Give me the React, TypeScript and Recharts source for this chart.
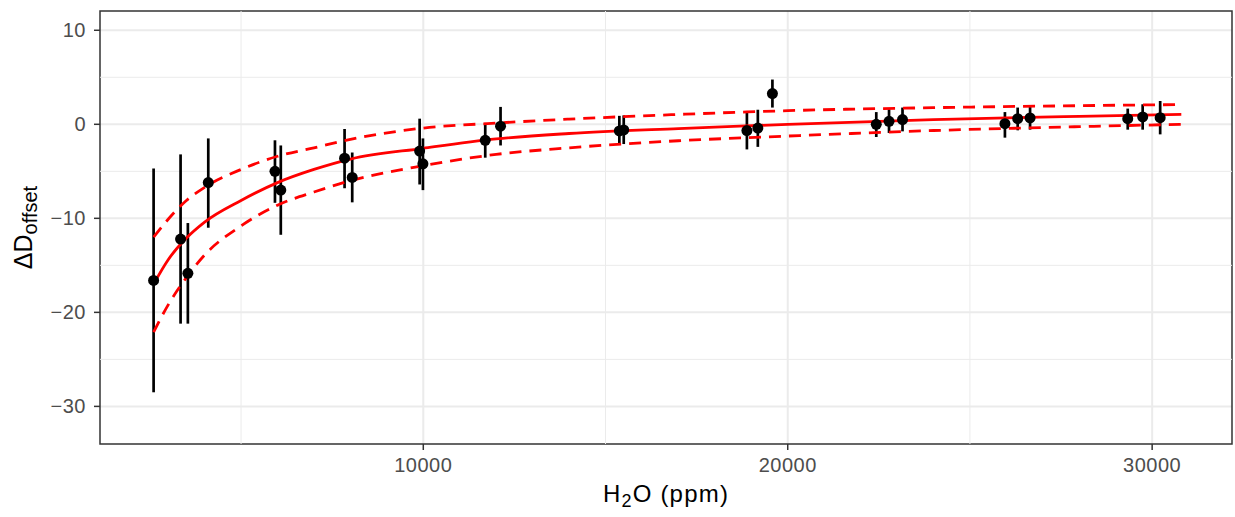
import React from 'react';
import {
  ComposedChart,
  Scatter,
  Line,
  XAxis,
  YAxis,
  CartesianGrid,
  ErrorBar,
  ReferenceLine,
  ReferenceArea,
  Label,
} from 'recharts';

const obsX = [2600, 3340, 3540, 4100, 5930, 6090, 7840, 8050, 9900, 9990, 11700, 12120, 15380, 15500, 18880, 19180, 19580, 22430, 22780, 23150, 25960, 26310, 26650, 29330, 29740, 30220];
const obsY = [-16.6, -12.2, -15.85, -6.2, -5.0, -7.0, -3.6, -5.65, -2.85, -4.2, -1.7, -0.2, -0.7, -0.6, -0.67, -0.4, 3.27, 0.0, 0.32, 0.5, 0.07, 0.6, 0.68, 0.6, 0.78, 0.71];
const obsLow = [-28.5, -21.2, -21.2, -11.0, -8.35, -11.75, -6.8, -8.3, -6.4, -7.0, -3.55, -2.25, -2.2, -2.1, -2.67, -2.4, 1.78, -1.35, -0.92, -0.75, -1.42, -0.64, -0.57, -0.57, -0.57, -1.07];
const obsHigh = [-4.7, -3.2, -10.5, -1.5, -1.7, -2.25, -0.5, -3.0, 0.6, -1.5, 0.15, 1.85, 0.9, 0.95, 1.25, 1.55, 4.76, 1.3, 1.6, 1.78, 1.3, 1.78, 1.92, 1.67, 2.13, 2.48];

// fitted curve and its band
const fitX = [2600, 3000, 3500, 4000, 5000, 6000, 7000, 8000, 10000, 12000, 14000, 17000, 20000, 24000, 28000, 30800];
const fitMid = [-17.0, -14.4, -12.1, -10.4, -8.1, -6.2, -4.8, -3.7, -2.55, -1.55, -0.98, -0.45, 0.0, 0.5, 0.85, 1.06];
const fitUpper = [-12.0, -10.1, -8.1, -6.7, -4.8, -3.4, -2.5, -1.6, -0.4, 0.13, 0.55, 1.05, 1.45, 1.77, 1.98, 2.1];
const fitLower = [-22.1, -19.2, -16.3, -13.9, -10.8, -8.6, -7.2, -6.0, -4.4, -3.2, -2.5, -1.75, -1.25, -0.66, -0.25, 0.0];

const xTicks = [10000, 20000, 30000];
const xMinor = [5000, 15000, 25000];
const yTicks = [-30, -20, -10, 0, 10];
const yMinor = [-25, -15, -5, 5];

const X_DOMAIN: [number, number] = [1129, 32191];
const Y_DOMAIN: [number, number] = [-34, 12.05];

const obsData = obsX.map((x, i) => ({
  x,
  y: obsY[i],
  err: [obsY[i] - obsLow[i], obsHigh[i] - obsY[i]],
}));
const midData = fitX.map((x, i) => ({ x, y: fitMid[i] }));
const upperData = fitX.map((x, i) => ({ x, y: fitUpper[i] }));
const lowerData = fitX.map((x, i) => ({ x, y: fitLower[i] }));

const FONT = '"Liberation Sans", Arial, Helvetica, sans-serif';
const tickStyle = { fill: '#4D4D4D', fontSize: 20, fontFamily: FONT, letterSpacing: 0.5 };

const Dot = (props: any) => <circle cx={props.cx} cy={props.cy} r={5.5} fill="#000000" />;

const XTitle = (props: any) => {
  const vb = props.viewBox;
  const cx = vb.x + vb.width / 2;
  return (
    <text x={cx} y={502} textAnchor="middle" fontFamily={FONT} fontSize={24} letterSpacing={1.2} fill="#000000">
      <tspan>H</tspan>
      <tspan dy={5} fontSize={18}>2</tspan>
      <tspan dy={-5}>O (ppm)</tspan>
    </text>
  );
};

const YTitle = (props: any) => {
  const vb = props.viewBox;
  const cy = vb.y + vb.height / 2;
  const bx = 32;
  return (
    <text
      x={bx}
      y={cy}
      transform={`rotate(-90, ${bx}, ${cy})`}
      textAnchor="middle"
      fontFamily={FONT}
      fontSize={25}
      fill="#000000"
    >
      <tspan>ΔD</tspan>
      <tspan dy={5} fontSize={20}>offset</tspan>
    </text>
  );
};

export default function App() {
  return (
    <div style={{ position: 'absolute', left: 0, top: 0, background: '#ffffff' }}>
      <ComposedChart width={1235} height={517} margin={{ top: 11, right: 3, left: 0, bottom: 0 }}>
        <CartesianGrid
          stroke="#EBEBEB"
          strokeWidth={2}
          horizontalValues={yTicks}
          verticalValues={xTicks}
        />
        {xMinor.map((v) => (
          <ReferenceLine key={'vx' + v} x={v} stroke="#EBEBEB" strokeWidth={1} />
        ))}
        {yMinor.map((v) => (
          <ReferenceLine key={'hy' + v} y={v} stroke="#EBEBEB" strokeWidth={1} />
        ))}
        <XAxis
          type="number"
          dataKey="x"
          domain={X_DOMAIN}
          ticks={xTicks}
          allowDataOverflow
          height={73}
          axisLine={false}
          tickLine={{ stroke: '#333333', strokeWidth: 1.5 }}
          tickSize={6}
          tickMargin={8}
          tick={tickStyle}
        >
          <Label content={XTitle} />
        </XAxis>
        <YAxis
          type="number"
          dataKey="y"
          domain={Y_DOMAIN}
          ticks={yTicks}
          allowDataOverflow
          width={100}
          axisLine={false}
          tickLine={{ stroke: '#333333', strokeWidth: 1.5 }}
          tickSize={6}
          tickMargin={8}
          tick={tickStyle}
          tickFormatter={(v: number) => (v < 0 ? '\u2212' + Math.abs(v) : String(v))}
        >
          <Label content={YTitle} />
        </YAxis>
        <Scatter data={obsData} dataKey="y" shape={Dot} isAnimationActive={false}>
          <ErrorBar dataKey="err" direction="y" width={0} stroke="#000000" strokeWidth={2.7} />
        </Scatter>
        <Line
          data={upperData}
          dataKey="y"
          type="monotone"
          stroke="#FF0000"
          strokeWidth={2.8}
          strokeDasharray="12 8"
          dot={false}
          activeDot={false}
          isAnimationActive={false}
        />
        <Line
          data={lowerData}
          dataKey="y"
          type="monotone"
          stroke="#FF0000"
          strokeWidth={2.8}
          strokeDasharray="12 8"
          dot={false}
          activeDot={false}
          isAnimationActive={false}
        />
        <Line
          data={midData}
          dataKey="y"
          type="monotone"
          stroke="#FF0000"
          strokeWidth={2.8}
          dot={false}
          activeDot={false}
          isAnimationActive={false}
        />
        <ReferenceArea
          x1={X_DOMAIN[0]}
          x2={X_DOMAIN[1]}
          y1={Y_DOMAIN[0]}
          y2={Y_DOMAIN[1]}
          fill="none"
          stroke="#333333"
          strokeWidth={1.5}
        />
      </ComposedChart>
    </div>
  );
}
